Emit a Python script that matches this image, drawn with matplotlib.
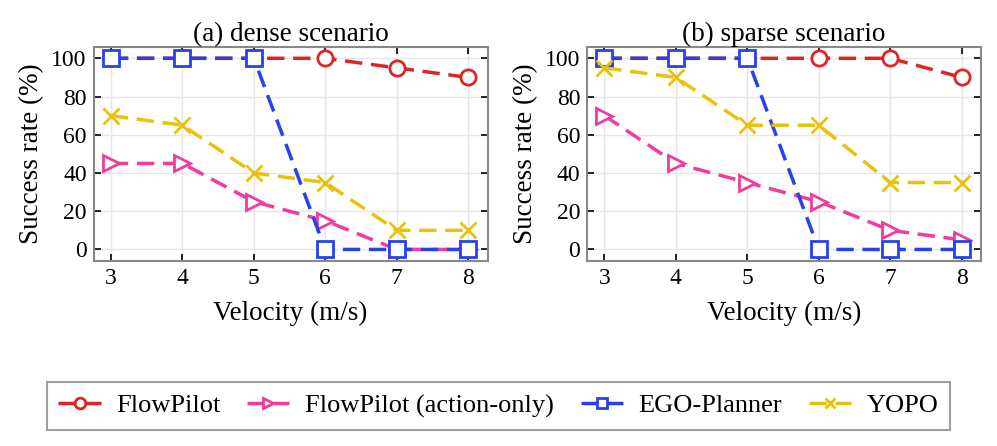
import matplotlib
matplotlib.use("Agg")
import matplotlib.pyplot as plt
import numpy as np

# data
velocity = [3, 4, 5, 6, 7, 8]
method_names = ["FlowPilot", "FlowPilot (action-only)", "EGO-Planner", "YOPO"]

dense_flowpilot = [100, 100, 100, 100, 95, 90]
dense_action = [45, 45, 25, 15, 0, 0]
dense_ego = [100, 100, 100, 0, 0, 0]
dense_yopo = [70, 65, 40, 35, 10, 10]

sparse_flowpilot = [100, 100, 100, 100, 100, 90]
sparse_action = [70, 45, 35, 25, 10, 5]
sparse_ego = [100, 100, 100, 0, 0, 0]
sparse_yopo = [95, 90, 65, 65, 35, 35]

titles = ["(a) dense scenario", "(b) sparse scenario"]

plt.rcParams['font.family'] = ['Liberation Serif', 'DejaVu Serif']

colors = ['#e02424', '#f23c9c', '#2741f0', '#e8c20c']
markers = ['o', '>', 's', 'x']

fig = plt.figure(figsize=(9.97, 4.46), dpi=100)
ax1 = fig.add_axes([0.094, 0.415, 0.395, 0.48])
ax2 = fig.add_axes([0.589, 0.415, 0.395, 0.48])

panels = [
    (ax1, [dense_flowpilot, dense_action, dense_ego, dense_yopo]),
    (ax2, [sparse_flowpilot, sparse_action, sparse_ego, sparse_yopo]),
]

handles = []
for k, (ax, series) in enumerate(panels):
    for i, vals in enumerate(series):
        h, = ax.plot(velocity, vals, linestyle=(0, (5, 2.5)), linewidth=2.5,
                     color=colors[i], marker=markers[i], markersize=11,
                     markerfacecolor='white' if markers[i] != 'x' else colors[i],
                     markeredgewidth=2, label=method_names[i], zorder=3)
        if k == 0:
            handles.append(h)
    ax.set_xlim(2.76, 8.27)
    ax.set_ylim(-6, 106)
    ax.set_xticks(velocity)
    ax.set_yticks([0, 20, 40, 60, 80, 100])
    ax.grid(True, color='#e6e6e6', linewidth=1)
    ax.set_axisbelow(True)
    ax.tick_params(direction='in', top=True, right=True, labelsize=17,
                   length=5, width=1.2, color='black', pad=5)
    for sp in ax.spines.values():
        sp.set_color('#888888')
        sp.set_linewidth(1.5)
    ax.set_xlabel("Velocity (m/s)", fontsize=19.5, labelpad=9)
    ax.set_ylabel("Success rate (%)", fontsize=19.5, labelpad=5)
    ax.set_title(titles[k], fontsize=19.5, pad=4)

leg = fig.legend(handles=handles, loc='center', bbox_to_anchor=(0.5, 0.09),
                 ncol=4, fontsize=19, frameon=True, fancybox=False,
                 handlelength=1.6, handletextpad=0.6, columnspacing=1.0,
                 borderpad=0.45, markerscale=0.7)
leg.get_frame().set_edgecolor('#888888')
leg.get_frame().set_linewidth(1.5)

fig.savefig("out.png", dpi=100)
